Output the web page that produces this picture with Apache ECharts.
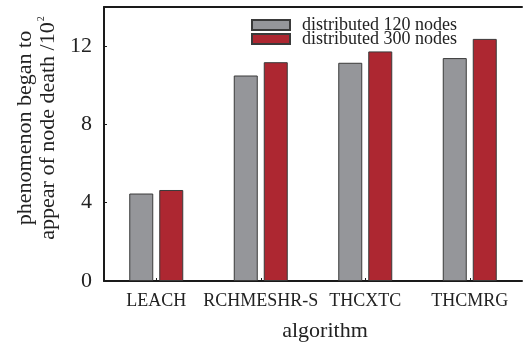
<!DOCTYPE html>
<html><head><meta charset="utf-8">
<script src="https://cdn.jsdelivr.net/npm/echarts@6/dist/echarts.min.js"></script>
<style>html,body{margin:0;padding:0;background:#fff}#c{width:523px;height:347px}</style>
</head><body><div id="c"></div>
<script>
const categories = ['LEACH', 'RCHMESHR-S', 'THCXTC', 'THCMRG'];
const seriesNames = ['distributed 120 nodes', 'distributed 300 nodes'];
const nodes120 = [4.47, 10.5, 11.15, 11.39];
const nodes300 = [4.65, 11.18, 11.73, 12.37];
const yTicks = [0, 4, 8, 12];

const FONT = "'Liberation Serif','Times New Roman',serif";
const chart = echarts.init(document.getElementById('c'));
chart.setOption({
  animation: false,
  backgroundColor: '#fff',
  grid: { left: 104, right: 1, top: 7, bottom: 63 },
  legend: {
    orient: 'vertical', left: 246, top: 11,
    itemWidth: 38, itemHeight: 10, itemGap: -4,
    icon: 'rect',
    textStyle: { fontFamily: FONT, fontSize: 18, color: '#222', lineHeight: 15, padding: [0,0,0,7] },
    data: seriesNames
  },
  xAxis: [{
    type: 'category', data: categories,
    axisLine: { lineStyle: { color: '#1a1a1a', width: 2 } },
    axisTick: { show: true, inside: true, length: 3, alignWithLabel: true, lineStyle: { color: '#1a1a1a' } },
    axisLabel: { fontFamily: FONT, fontSize: 18, color: '#222', margin: 11, interval: 0 },
    name: 'algorithm', nameLocation: 'middle', nameGap: 39,
    nameTextStyle: { fontFamily: FONT, fontSize: 22, color: '#222', padding: [0,0,0,24] }
  }, {
    type: 'category', data: categories, position: 'top',
    axisLine: { lineStyle: { color: '#1a1a1a', width: 2 } },
    axisTick: { show: false }, axisLabel: { show: false }
  }],
  yAxis: {
    type: 'value', min: 0, max: 14, interval: 4,
    splitLine: { show: false },
    axisLine: { show: true, lineStyle: { color: '#1a1a1a', width: 2 } },
    axisTick: { show: true, inside: true, length: 3, lineStyle: { color: '#1a1a1a' } },
    axisLabel: { fontFamily: FONT, fontSize: 22, color: '#222', margin: 12,
      formatter: v => yTicks.includes(v) ? String(v) : '' },
    name: '{a|phenomenon began to}\n{a|appear of node death /10}{s|2}',
    nameLocation: 'middle', nameGap: 44, nameRotate: 90,
    nameTextStyle: {
      fontFamily: FONT, color: '#222', padding: [0,0,0,32],
      rich: {
        a: { fontFamily: FONT, fontSize: 22, color: '#222', lineHeight: 23 },
        s: { fontFamily: FONT, fontSize: 10, color: '#222', lineHeight: 23, verticalAlign: 'top', padding: [0,0,10,1] }
      }
    }
  },
  series: [
    { name: seriesNames[0], type: 'bar', data: nodes120, barWidth: 24, barGap: '25%',
      itemStyle: { color: '#95969a', borderColor: '#3a3a3a', borderWidth: 1 } },
    { name: seriesNames[1], type: 'bar', data: nodes300, barWidth: 24,
      itemStyle: { color: '#ad2731', borderColor: '#3a3a3a', borderWidth: 1 } }
  ]
});
</script></body></html>
